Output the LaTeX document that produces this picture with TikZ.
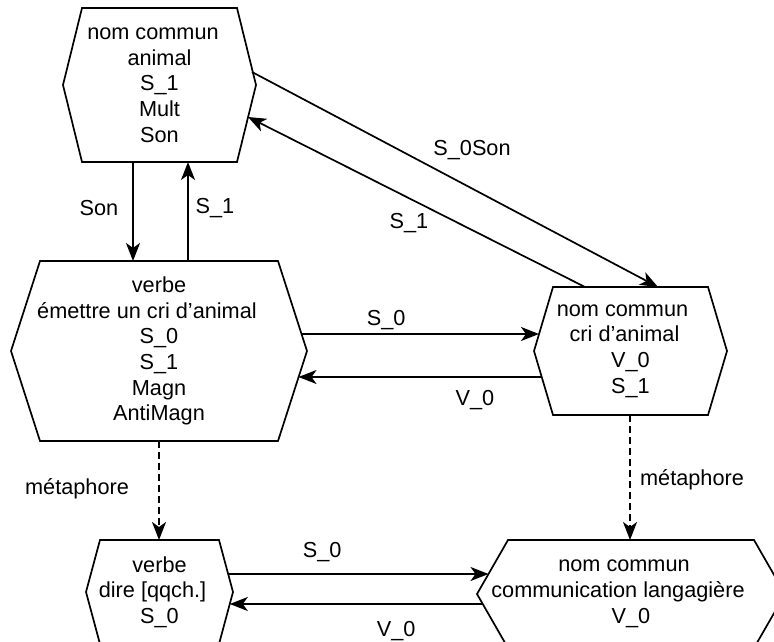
\documentclass[tikz,border=0pt]{standalone}
\usepackage{fontspec}
\setmainfont{Liberation Sans}
\usetikzlibrary{calc,arrows.meta}

% #1 name, #2 #3 centre, #4 width, #5 height, #6 side inset, #7 text
\newcommand\hexagonnode[7]{%
  \node[hextext] (#1) at (#2,#3) {#7};
  \draw[hexline]
    ($(#1.center)+({-(#4)/2+(#6)},{-(#5)/2})$) --
    ($(#1.center)+({(#4)/2-(#6)},{-(#5)/2})$) --
    ($(#1.center)+({(#4)/2},0)$) --
    ($(#1.center)+({(#4)/2-(#6)},{(#5)/2})$) --
    ($(#1.center)+({-(#4)/2+(#6)},{(#5)/2})$) --
    ($(#1.center)+({-(#4)/2},0)$) -- cycle;
}

\begin{document}
\begin{tikzpicture}[x=0.5pt,y=-0.5pt,
  every node/.style={font=\fontsize{10.85}{12.85}\selectfont},
  hextext/.style={align=center, inner sep=0pt},
  hexline/.style={draw=black, line width=0.85pt},
  link/.style={line width=0.85pt, -{Stealth[length=9pt,width=7pt,inset=2.5pt]}},
  meta/.style={link, dash pattern=on 3.5pt off 2pt},
  lab/.style={inner sep=0pt}]
\useasboundingbox[fill=white] (0,0) rectangle (774,641);

\hexagonnode{an}{159.5}{85}{193}{154}{19}{nom commun\kern6.5pt\\animal\\S\_1\\Mult\\Son}
\hexagonnode{vb}{159}{351}{296}{180}{29}{verbe\\émettre un cri d’animal\kern12pt\\S\_0\\S\_1\\Magn\\AntiMagn}
\hexagonnode{cr}{630.5}{351}{193}{128}{19}{nom commun\kern8pt\\cri d’animal\kern6pt\\V\_0\\S\_1}
\hexagonnode{dr}{159.5}{592}{147}{104}{14}{verbe\\dire [qqch.]\kern7pt\\S\_0}
\hexagonnode{cm}{631}{594}{308}{108}{31}{nom commun\kern7pt\\communication langagière\kern13pt\\V\_0}

\draw[link] ($(an.center)+(-26.5,77)$) -- node[lab,shift={(-34,-3.5)}] {Son} ($(vb.center)+(-26,-90)$);
\draw[link] ($(vb.center)+(29,-90)$) -- node[lab,shift={(27,-3.5)}] {S\_1} ($(an.center)+(28.5,77)$);
\draw[link] ($(an.center)+(92.5,-13)$) -- node[lab,shift={(17,-29.5)}] {S\_0Son} ($(cr.center)+(27.5,-64)$);
\draw[link] ($(cr.center)+(-45.5,-64)$) -- node[lab,shift={(-7.5,21)}] {S\_1} ($(an.center)+(88.5,32)$);
\draw[link] ($(vb.center)+(142.5,-17)$) -- node[lab,shift={(-34,-14)}] {S\_0} ($(cr.center)+(-91.5,-17)$);
\draw[link] ($(cr.center)+(-89,26)$) -- node[lab,shift={(55,23)}] {V\_0} ($(vb.center)+(139.5,26)$);
\draw[meta] ($(vb.center)+(0,90)$) -- node[lab,shift={(-82,-1.5)}] {métaphore} ($(dr.center)+(-0.5,-52)$);
\draw[meta] ($(cr.center)+(-0.5,64)$) -- node[lab,shift={(62,2.5)}] {métaphore} ($(cm.center)+(-1,-54)$);
\draw[link] ($(dr.center)+(68.5,-18)$) -- node[lab,shift={(-36,-22)}] {S\_0} ($(cm.center)+(-142.5,-20)$);
\draw[link] ($(cm.center)+(-148.3,10)$) -- node[lab,shift={(40,27)}] {V\_0} ($(dr.center)+(70.3,12)$);
\end{tikzpicture}
\end{document}
